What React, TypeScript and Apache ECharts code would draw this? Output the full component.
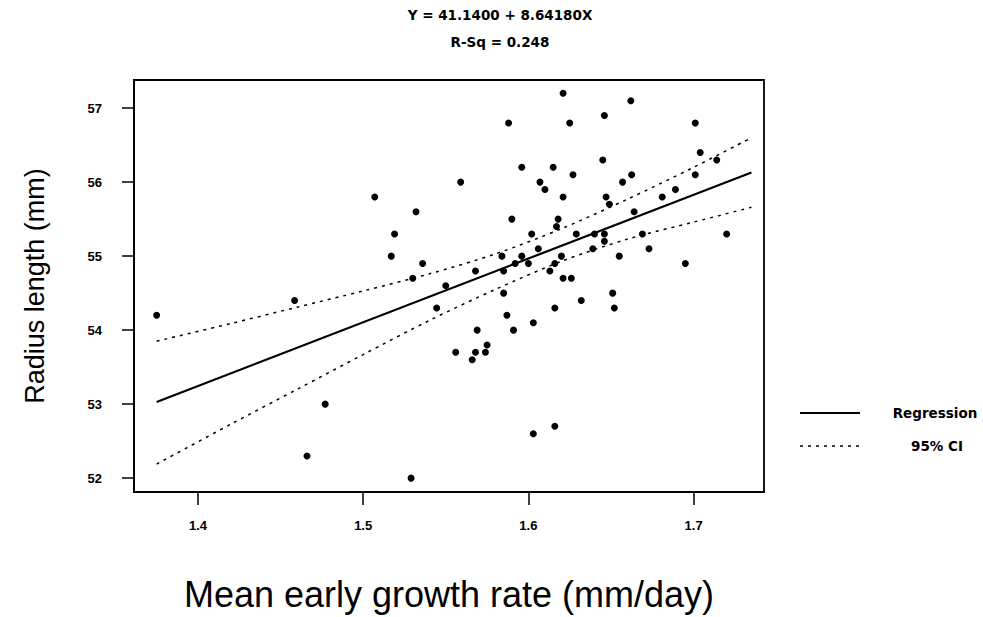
import React, { useEffect, useRef } from "react";
import * as echarts from "echarts";

// Scatter observations: mean early growth rate (mm/day) vs radius length (mm)
const growthRate = [
  1.507, 1.532, 1.519, 1.517, 1.536, 1.53, 1.55,
  1.375, 1.4585, 1.477, 1.466, 1.529, 1.5445,
  1.621, 1.588, 1.625, 1.596, 1.615, 1.559, 1.627, 1.607, 1.61, 1.621,
  1.59, 1.618, 1.617, 1.602, 1.629, 1.64, 1.584, 1.596, 1.606, 1.62,
  1.639, 1.568, 1.585, 1.592, 1.6, 1.616, 1.613, 1.621, 1.626,
  1.585, 1.651,
  1.662, 1.646, 1.701, 1.645, 1.704, 1.714, 1.6625, 1.701, 1.657, 1.689,
  1.681, 1.647, 1.649, 1.664, 1.646, 1.72, 1.646, 1.669, 1.673, 1.655, 1.695,
  1.616, 1.632, 1.587, 1.603, 1.569, 1.591, 1.575, 1.556, 1.568, 1.574,
  1.566, 1.603, 1.616,
  1.652,
];
const radiusLength = [
  55.8, 55.6, 55.3, 55.0, 54.9, 54.7, 54.6,
  54.2, 54.4, 53.0, 52.3, 52.0, 54.3,
  57.2, 56.8, 56.8, 56.2, 56.2, 56.0, 56.1, 56.0, 55.9, 55.8,
  55.5, 55.5, 55.4, 55.3, 55.3, 55.3, 55.0, 55.0, 55.1, 55.0,
  55.1, 54.8, 54.8, 54.9, 54.9, 54.9, 54.8, 54.7, 54.7,
  54.5, 54.5,
  57.1, 56.9, 56.8, 56.3, 56.4, 56.3, 56.1, 56.1, 56.0, 55.9,
  55.8, 55.8, 55.7, 55.6, 55.3, 55.3, 55.2, 55.3, 55.1, 55.0, 54.9,
  54.3, 54.4, 54.2, 54.1, 54.0, 54.0, 53.8, 53.7, 53.7, 53.7,
  53.6, 52.6, 52.7,
  54.3,
];

// Fitted regression line end points
const fitX = [1.375, 1.735];
const fitY = [53.03, 56.13];

// 95% confidence band
const ciX = [1.375, 1.42, 1.46, 1.5, 1.54, 1.58, 1.62, 1.66, 1.7, 1.735];
const ciUpper = [53.85, 54.09, 54.31, 54.53, 54.76, 55.03, 55.37, 55.77, 56.2, 56.6];
const ciLower = [52.19, 52.73, 53.2, 53.67, 54.13, 54.55, 54.93, 55.23, 55.46, 55.66];

const xTicks = [1.4, 1.5, 1.6, 1.7];
const yTicks = [52, 53, 54, 55, 56, 57];

const titleText = "Y = 41.1400 + 8.64180X\nR-Sq = 0.248";
const xName = "Mean early growth rate (mm/day)";
const yName = "Radius length (mm)";
const legendFit = "Regression";
const legendCI = "95% CI";

export default function App() {
  const ref = useRef<HTMLDivElement>(null);
  useEffect(() => {
    const chart = echarts.init(ref.current!, null, { renderer: "svg" });
    const pts = growthRate.map((x, i) => [x, radiusLength[i]]);
    const fit = fitX.map((x, i) => [x, fitY[i]]);
    const up = ciX.map((x, i) => [x, ciUpper[i]]);
    const lo = ciX.map((x, i) => [x, ciLower[i]]);
    const small = {
      fontFamily: "Liberation Sans",
      fontWeight: "bold" as const,
      fontSize: 13,
      color: "#000",
    };
    const wide = {
      fontFamily: "DejaVu Sans",
      fontWeight: "bold" as const,
      fontSize: 13.5,
      color: "#000",
    };
    chart.setOption({
      animation: false,
      backgroundColor: "#fff",
      title: {
        text: titleText,
        left: 500,
        top: 1,
        textAlign: "center",
        padding: 0,
        textStyle: { ...wide, lineHeight: 27 },
      },
      grid: {
        left: 134,
        right: 219,
        top: 80,
        bottom: 121,
        show: true,
        borderColor: "#000",
        borderWidth: 1.8,
      },
      xAxis: {
        type: "value",
        min: 1.3613,
        max: 1.7426,
        splitLine: { show: false },
        axisLine: { show: true, onZero: false, lineStyle: { color: "#000", width: 1.8 } },
        axisTick: { show: true, length: 13, customValues: xTicks, lineStyle: { color: "#000", width: 1.5 } },
        axisLabel: {
          customValues: xTicks,
          margin: 27,
          formatter: (v: number) => v.toFixed(1),
          ...small,
        },
        name: xName,
        nameLocation: "middle",
        nameGap: 84,
        nameTextStyle: { fontFamily: "Liberation Sans", fontSize: 36, color: "#000" },
      },
      yAxis: {
        type: "value",
        min: 51.8126,
        max: 57.38,
        splitLine: { show: false },
        axisLine: { show: true, onZero: false, lineStyle: { color: "#000", width: 1.8 } },
        axisTick: { show: true, length: 12, customValues: yTicks, lineStyle: { color: "#000", width: 1.5 } },
        axisLabel: {
          customValues: yTicks,
          margin: 32,
          formatter: (v: number) => String(v),
          ...small,
        },
        name: yName,
        nameLocation: "middle",
        nameGap: 86,
        nameTextStyle: { fontFamily: "Liberation Sans", fontSize: 27, color: "#000" },
      },
      series: [
        {
          type: "scatter",
          data: pts,
          symbolSize: 7,
          itemStyle: { color: "#000", opacity: 1 },
        },
        {
          type: "line",
          name: legendFit,
          data: fit,
          symbol: "none",
          lineStyle: { color: "#000", width: 2.2 },
        },
        {
          type: "line",
          name: legendCI,
          data: up,
          symbol: "none",
          smooth: 0.3,
          lineStyle: { color: "#000", width: 1.5, type: [3, 5] },
        },
        {
          type: "line",
          name: legendCI,
          data: lo,
          symbol: "none",
          smooth: 0.3,
          lineStyle: { color: "#000", width: 1.5, type: [3, 5] },
        },
      ],
      graphic: [
        {
          type: "line",
          shape: { x1: 800, y1: 413, x2: 860, y2: 413 },
          style: { stroke: "#000", lineWidth: 2 },
        },
        {
          type: "text",
          x: 935,
          y: 413,
          style: { text: legendFit, ...wide, fill: "#000", align: "center", verticalAlign: "middle" },
        },
        {
          type: "line",
          shape: { x1: 800, y1: 446, x2: 860, y2: 446 },
          style: { stroke: "#000", lineWidth: 1.5, lineDash: [3, 5] },
        },
        {
          type: "text",
          x: 937,
          y: 446,
          style: { text: legendCI, ...wide, fill: "#000", align: "center", verticalAlign: "middle" },
        },
      ],
    });
    return () => chart.dispose();
  }, []);
  return (
    <div
      ref={ref}
      style={{ position: "fixed", left: 0, top: 0, width: 983, height: 617 }}
    />
  );
}
